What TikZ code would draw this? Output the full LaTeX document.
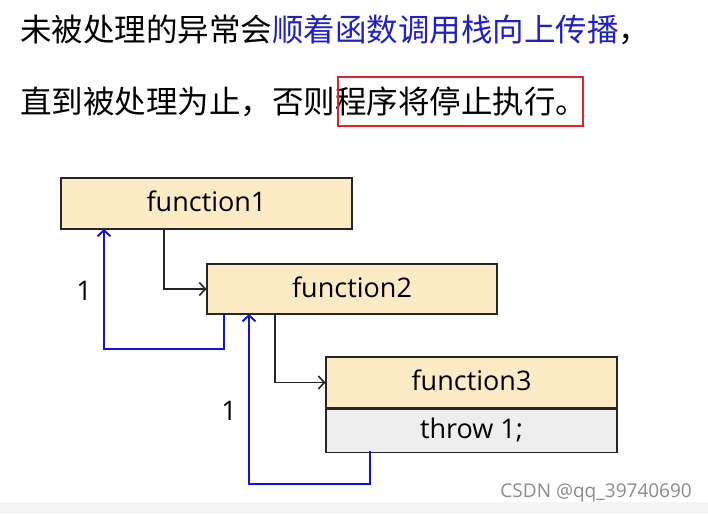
\documentclass[tikz,border=0pt]{standalone}
\usepackage{fontspec}
\setmainfont{Open Sans}
\newfontfamily\cjk{Noto Sans CJK SC}
\usetikzlibrary{arrows.meta}
\definecolor{boxfill}{HTML}{FDEBC6}
\definecolor{throwfill}{HTML}{EEEEEE}
\definecolor{flowblue}{HTML}{1010E8}
\definecolor{textblue}{HTML}{2020C8}
\definecolor{markred}{HTML}{E8202A}
\newcommand{\lift}[1]{\raisebox{4pt}{#1}}
\tikzset{
  fbox/.style={draw=black!85, line width=1.1pt, fill=boxfill, inner sep=0pt, font=\fontsize{27}{29}\selectfont},
  tbox/.style={draw=black!85, line width=1.1pt, fill=throwfill, inner sep=0pt, font=\fontsize{27}{29}\selectfont},
  call/.style={draw=black!85, line width=1.6pt, -{Straight Barb[length=6pt,width=13pt,line width=1.6pt]}},
  prop/.style={draw=flowblue, line width=1.9pt, -{Straight Barb[length=6pt,width=13pt,line width=1.9pt]}},
  cjkline/.style={anchor=west, inner sep=0pt, font=\cjk\fontsize{31.5}{34}\selectfont},
  numlabel/.style={font=\fontsize{27}{29}\selectfont, inner sep=0pt}
}
\begin{document}
\begin{tikzpicture}[x=1pt, y=-1pt]
\useasboundingbox[fill=white] (0,0) rectangle (708,514);
\fill[black!4] (0,502) rectangle (708,514);
% text
\node[cjkline] (line1) at (20,30) {未被处理的异常会\textcolor{textblue}{顺着函数调用栈向上传播}，};
\node[cjkline] (line2) at (20,102) {直到被处理为止，否则程序将停止执行。};
\draw[markred, line width=1.6pt] (338,77) rectangle (583,126);
% boxes
\node[fbox, minimum width=291pt, minimum height=51pt] (f1) at (206.5,203.5) {\lift{function1}};
\node[fbox, minimum width=290pt, minimum height=50pt] (f2) at (352,289) {\lift{function2}};
\node[fbox, minimum width=291pt, minimum height=51pt] (f3) at (471.5,382.5) {\lift{function3}};
\node[tbox, minimum width=291pt, minimum height=43pt, anchor=north] (t3) at (f3.south) {\lift{throw 1;}};
% call arrows
\draw[call] (164,229) |- (f2.west);
\draw[call] (275,314) |- (f3.west);
% propagation arrows
\coordinate (c1) at (104,349);
\coordinate (c2) at (249,484);
\draw[prop] (224,314) |- (c1) -- (104,229);
\draw[prop] (370,451) |- (c2) -- (249,314);
\node[numlabel] (n1) at (84,291) {1};
\node[numlabel] (n2) at (229,411) {1};
% watermark
\node[anchor=east, text=black!45, font=\fontsize{19}{20}\selectfont, inner sep=0pt] (wm) at (692,493) {CSDN @qq\_39740690};
\end{tikzpicture}
\end{document}
